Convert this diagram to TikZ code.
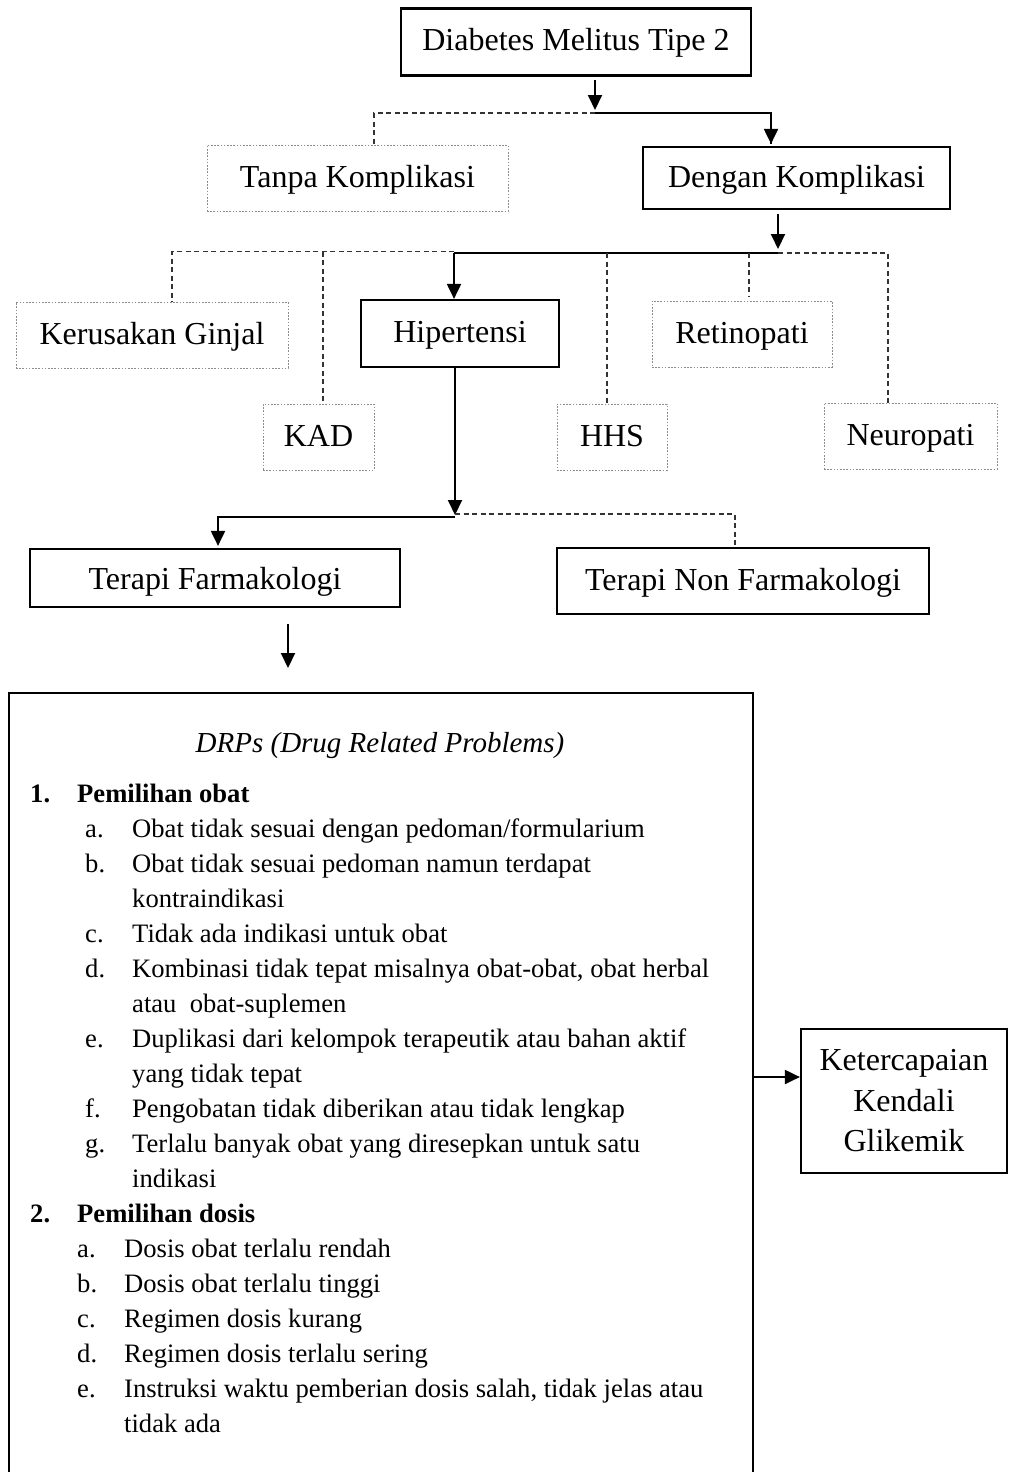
\documentclass[tikz,border=0pt]{standalone}
\usepackage{fontspec}
\setmainfont{Liberation Serif}
\usetikzlibrary{arrows.meta,calc}
\begin{document}
\begin{tikzpicture}[x=1pt,y=-1pt,
  solidbox/.style={draw, line width=2.2pt, inner sep=0pt, align=center, font=\fontsize{32}{41}\selectfont},
  oneline/.style={text height=23pt, text depth=5pt},
  dotbox/.style={draw=black!45, line width=1pt, dash pattern=on 1.6pt off 1.6pt, inner sep=0pt, align=center, font=\fontsize{32}{41}\selectfont, oneline},
  dashline/.style={draw=black!80, line width=1.3pt, dash pattern=on 5pt off 3.5pt},
  solidline/.style={draw=black, line width=2pt},
  arr/.style={solidline, -{Triangle[length=15pt,width=14pt]}},
  body/.style={anchor=base west, inner sep=0pt, font=\fontsize{26.6}{35}\selectfont},
  bodyb/.style={body, font=\fontsize{26.6}{35}\selectfont\bfseries}
]
\useasboundingbox (0,0) rectangle (1009,1472);

% boxes
\node[solidbox, oneline, minimum width=350pt, minimum height=67pt] (dm) at (576,42) {Diabetes Melitus Tipe 2};
\node[dotbox, minimum width=301pt, minimum height=66pt] (tanpa) at (357.5,178) {Tanpa Komplikasi};
\node[solidbox, oneline, minimum width=307pt, minimum height=62pt] (dengan) at (796.5,178) {Dengan Komplikasi};
\node[dotbox, minimum width=272pt, minimum height=66pt] (kg) at (152,335) {Kerusakan Ginjal};
\node[solidbox, oneline, minimum width=198pt, minimum height=67pt] (hip) at (460,333.5) {Hipertensi};
\node[dotbox, minimum width=180pt, minimum height=66pt] (ret) at (742,334) {Retinopati};
\node[dotbox, minimum width=111pt, minimum height=66pt] (kad) at (318.5,437) {KAD};
\node[dotbox, minimum width=110pt, minimum height=66pt] (hhs) at (612,437) {HHS};
\node[dotbox, minimum width=173pt, minimum height=66pt] (neu) at (910.5,436) {Neuropati};
\node[solidbox, text height=25pt, text depth=3pt, minimum width=370pt, minimum height=58pt] (tf) at (215,578) {Terapi Farmakologi};
\node[solidbox, oneline, minimum width=372pt, minimum height=66pt] (tnf) at (743,581) {Terapi Non Farmakologi};
\node[solidbox, minimum width=744pt, minimum height=800pt, anchor=north west] (drp) at (8,692) {};
\node[solidbox, minimum width=206pt, minimum height=144pt] (kkg) at (904,1101) {Ketercapaian\\[-0.5pt]Kendali\\[-0.5pt]Glikemik};

% junctions
\coordinate (j1) at (595,113);
\coordinate (j2) at (778,253);
\coordinate (j3) at (455,517);
\coordinate (a1) at (288,624);
\coordinate (a2) at (288,668);
\coordinate (a3) at (752,1077);

% level 1
\draw[arr] ([yshift=-3.5pt]dm.south -| j1) -- ([yshift=3pt]j1);
\draw[dashline] (j1) -| ([xshift=16.5pt]tanpa.north);
\draw[solidline] (j1) -| ([xshift=-25.5pt,yshift=2pt]dengan.north);
\draw[arr] ([xshift=-25.5pt,yshift=20pt]dengan.north) -- ([xshift=-25.5pt,yshift=2pt]dengan.north);

% level 2
\draw[arr] ([yshift=-4pt]dengan.south -| j2) -- ([yshift=4pt]j2);
\draw[solidline] (j2) -- ([xshift=-6pt]hip.north |- j2);
\draw[arr] ([xshift=-6pt]hip.north |- j2) -- ([xshift=-6pt]hip.north);
\draw[dashline] ([xshift=-6pt,yshift=1.5pt]hip.north |- j2) -| ([xshift=20pt]kg.north);
\draw[dashline] ([xshift=4.5pt]kad.north |- 0,251.5) -- ([xshift=4.5pt]kad.north);
\draw[dashline] ([xshift=-5pt]hhs.north |- j2) -- ([xshift=-5pt]hhs.north);
\draw[dashline] (j2) -| ([xshift=-22.5pt]neu.north);
\draw[dashline] ([xshift=7pt]ret.north |- j2) -- ([xshift=7pt,yshift=4pt]ret.north);

% level 3
\draw[arr] ([xshift=-5pt]hip.south) -- ([yshift=2pt]j3);
\draw[solidline] (j3) -| ([xshift=3pt,yshift=16pt]tf.north);
\draw[arr] ([xshift=3pt,yshift=16pt]tf.north) -- ([xshift=3pt,yshift=2pt]tf.north);
\draw[dashline] ([yshift=3pt]j3) -| ([xshift=-8pt]tnf.north);

% to DRPs and outcome
\draw[arr] (a1) -- (a2);
\draw[arr] (a3) -- (a3 -| kkg.west);

% DRPs text
\node[anchor=base, inner sep=0pt, font=\fontsize{29}{35}\selectfont\itshape] (title) at (380,752) {DRPs (Drug Related Problems)};
\node[bodyb] (n1) at (30,802) {1.};
\node[bodyb] (h1) at (77,802) {Pemilihan obat};
\node[body] (l1a) at (85,837) {a.};
\node[body] (t1a) at (132,837) {Obat tidak sesuai dengan pedoman/formularium};
\node[body] (l1b) at (85,872) {b.};
\node[body] (t1b) at (132,872) {Obat tidak sesuai pedoman namun terdapat};
\node[body] (t1b2) at (132,907) {kontraindikasi};
\node[body] (l1c) at (85,942) {c.};
\node[body] (t1c) at (132,942) {Tidak ada indikasi untuk obat};
\node[body] (l1d) at (85,977) {d.};
\node[body] (t1d) at (132,977) {Kombinasi tidak tepat misalnya obat-obat, obat herbal};
\node[body] (t1d2) at (132,1012) {atau~ obat-suplemen};
\node[body] (l1e) at (85,1047) {e.};
\node[body] (t1e) at (132,1047) {Duplikasi dari kelompok terapeutik atau bahan aktif};
\node[body] (t1e2) at (132,1082) {yang tidak tepat};
\node[body] (l1f) at (85,1117) {f.};
\node[body] (t1f) at (132,1117) {Pengobatan tidak diberikan atau tidak lengkap};
\node[body] (l1g) at (85,1152) {g.};
\node[body] (t1g) at (132,1152) {Terlalu banyak obat yang diresepkan untuk satu};
\node[body] (t1g2) at (132,1187) {indikasi};
\node[bodyb] (n2) at (30,1222) {2.};
\node[bodyb] (h2) at (77,1222) {Pemilihan dosis};
\node[body] (l2a) at (77,1257) {a.};
\node[body] (t2a) at (124,1257) {Dosis obat terlalu rendah};
\node[body] (l2b) at (77,1292) {b.};
\node[body] (t2b) at (124,1292) {Dosis obat terlalu tinggi};
\node[body] (l2c) at (77,1327) {c.};
\node[body] (t2c) at (124,1327) {Regimen dosis kurang};
\node[body] (l2d) at (77,1362) {d.};
\node[body] (t2d) at (124,1362) {Regimen dosis terlalu sering};
\node[body] (l2e) at (77,1397) {e.};
\node[body] (t2e) at (124,1397) {Instruksi waktu pemberian dosis salah, tidak jelas atau};
\node[body] (t2e2) at (124,1432) {tidak ada};
\end{tikzpicture}
\end{document}
